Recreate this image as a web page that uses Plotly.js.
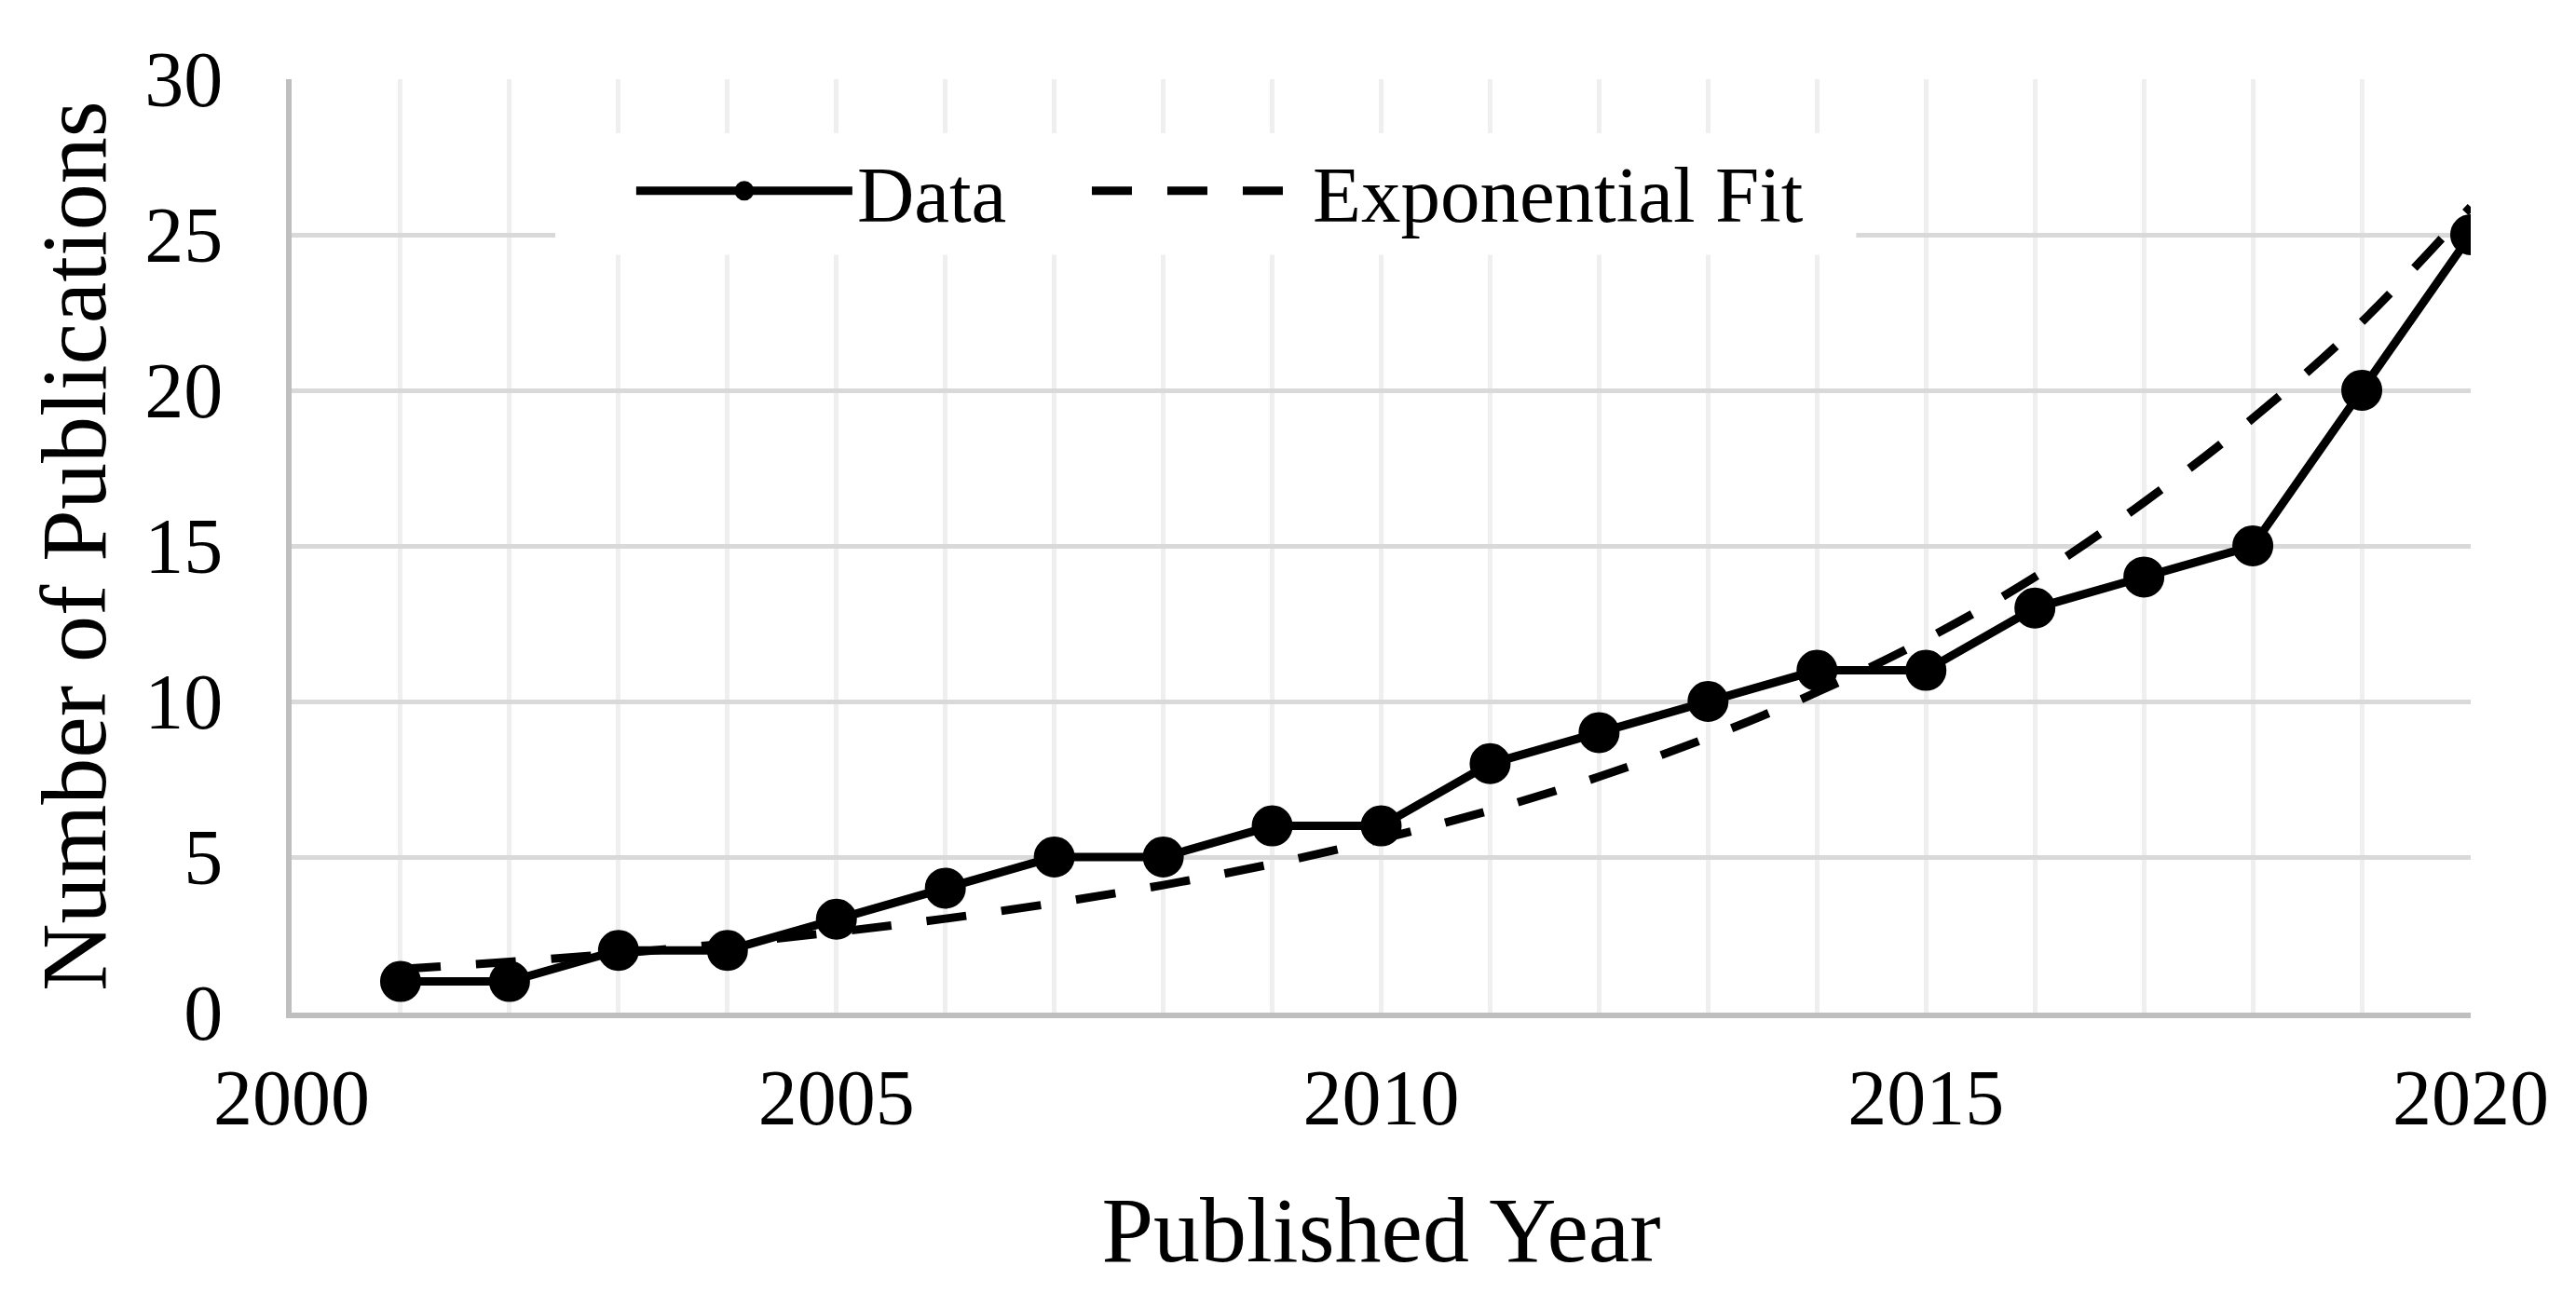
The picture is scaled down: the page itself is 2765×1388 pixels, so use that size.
<!DOCTYPE html>
<html>
<head>
<meta charset="utf-8">
<script src="https://cdn.plot.ly/plotly-3.0.1.min.js"></script>
<style>html,body{margin:0;padding:0;background:#fff;}</style>
</head>
<body>
<div id="chart" style="width:2765px;height:1388px;"></div>
<script>
// Data
const years = [2001, 2002, 2003, 2004, 2005, 2006, 2007, 2008, 2009, 2010,
               2011, 2012, 2013, 2014, 2015, 2016, 2017, 2018, 2019, 2020];
const publications = [1, 1, 2, 2, 3, 4, 5, 5, 6, 6,
                      8, 9, 10, 11, 11, 13, 14, 15, 20, 25];
const exponentialFit = [1.40, 1.63, 1.90, 2.22, 2.59, 3.02, 3.52, 4.10, 4.78, 5.58,
                        6.50, 7.58, 8.84, 10.3, 12.0, 14.0, 16.4, 19.1, 22.2, 25.9];
const xTickVals = [2000, 2005, 2010, 2015, 2020];
const xTickText = ['2000', '2005', '2010', '2015', '2020'];
const yTickVals = [0, 5, 10, 15, 20, 25, 30];
const yTickText = ['0', '5', '10', '15', '20', '25', '30'];
const seriesNames = ['Data', 'Exponential Fit'];

const FONT = 'Liberation Serif, Times New Roman, serif';

const traces = [
  {
    x: years, y: publications, name: seriesNames[0],
    type: 'scatter', mode: 'lines+markers',
    line: {color: '#000000', width: 9},
    marker: {color: '#000000', size: 39, symbol: 'circle', line: {color: '#000000', width: 5}},
    legend: 'legend'
  },
  {
    x: years, y: exponentialFit, name: seriesNames[1],
    type: 'scatter', mode: 'lines',
    line: {color: '#000000', width: 9, dash: '43px,38px', shape: 'spline', smoothing: 1},
    legend: 'legend2'
  }
];

const legendBase = {
  orientation: 'h', y: 0.942, xanchor: 'left', yanchor: 'top',
  bgcolor: 'rgba(255,255,255,0)', borderwidth: 0,
  font: {family: FONT, size: 85, color: '#000000'},
  itemwidth: 232
};

const layout = {
  width: 2765, height: 1388,
  margin: {l: 313, r: 113, t: 85, b: 301, pad: 0},
  paper_bgcolor: '#ffffff', plot_bgcolor: '#ffffff',
  font: {family: FONT, color: '#000000', size: 84},
  showlegend: true,
  legend: Object.assign({}, legendBase, {x: 0.156}),
  legend2: Object.assign({}, legendBase, {x: 0.3651}),
  // white backing panel behind the legend, hiding the gridlines there
  shapes: [{
    type: 'rect', xref: 'paper', yref: 'paper',
    x0: 0.121, x1: 0.718, y0: 0.812, y1: 0.942,
    fillcolor: '#ffffff', line: {width: 0}, layer: 'above'
  }],
  xaxis: {
    range: [2000, 2020],
    tickmode: 'array', tickvals: xTickVals, ticktext: xTickText,
    ticks: '', ticklabelstandoff: 13,
    tickfont: {family: FONT, size: 84, color: '#000000'},
    showgrid: true, gridcolor: '#efefef', gridwidth: 5,
    minor: {dtick: 1, showgrid: true, gridcolor: '#efefef', gridwidth: 5, ticks: ''},
    showline: true, linecolor: '#bfbfbf', linewidth: 6,
    zeroline: false,
    title: {text: 'Published Year', font: {family: FONT, size: 100, color: '#000000'}, standoff: 62}
  },
  yaxis: {
    range: [0, 30],
    tickmode: 'array', tickvals: yTickVals, ticktext: yTickText,
    ticks: '', ticklabelstandoff: 51,
    tickfont: {family: FONT, size: 84, color: '#000000'},
    showgrid: true, gridcolor: '#d9d9d9', gridwidth: 5,
    showline: true, linecolor: '#bfbfbf', linewidth: 6,
    zeroline: false,
    title: {text: 'Number of Publications', font: {family: FONT, size: 100, color: '#000000'}, standoff: 10}
  }
};

Plotly.newPlot('chart', traces, layout, {displayModeBar: false, staticPlot: true});
</script>
</body>
</html>
